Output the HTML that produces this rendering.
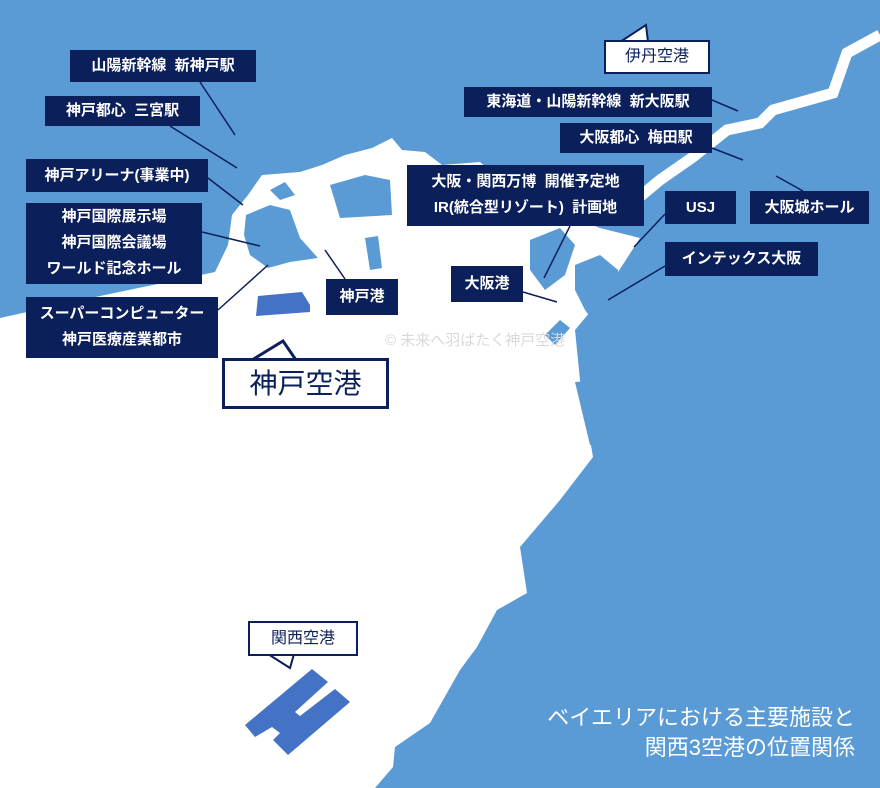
<!DOCTYPE html>
<html><head><meta charset="utf-8"><style>
html,body{margin:0;padding:0;}
body{width:880px;height:788px;overflow:hidden;background:#5b9bd5;font-family:"Liberation Sans","Noto Sans CJK JP",sans-serif;}
.l{position:absolute;background:#0b1f5b;color:#fff;font-size:15px;font-weight:bold;text-align:center;line-height:26px;box-sizing:border-box;white-space:nowrap;}
.c{position:absolute;background:#fff;border:2px solid #0b1f5b;color:#0b1f5b;text-align:center;box-sizing:border-box;white-space:nowrap;}
</style></head><body>
<svg width="880" height="788" style="position:absolute;left:0;top:0">
<polygon fill="#fff" points="0,318 100,296 215,272 228,245 232,215 248,195 262,175 300,172 322,165 345,155 372,148 392,138 402,150 425,152 442,165 480,162 520,198 600,228 640,238 600,300 575,330 580,380 593,457 560,500 520,547 527,593 497,610 477,647 460,670 430,723 395,747 393,767 375,788 0,788"/>
<polyline fill="none" stroke="#fff" stroke-width="11" stroke-linejoin="miter" points="636,200 660,180 693,157 727,130 760,123 773,110 833,93 847,53 880,35"/>
<polygon fill="#5b9bd5" points="246,215 270,205 290,210 300,238 318,258 290,262 268,268 250,255 244,235"/>
<polygon fill="#5b9bd5" points="330,185 365,175 390,180 392,215 340,218"/>
<polygon fill="#5b9bd5" points="365,238 378,236 382,268 370,270"/>
<polygon fill="#5b9bd5" points="270,190 285,182 295,195 280,200"/>
<polygon fill="#4472c4" points="258,296 302,292 310,305 310,312 256,316"/>
<polygon fill="#5b9bd5" points="530,240 560,228 575,245 565,275 545,290 530,270"/>
<polygon fill="#5b9bd5" points="575,265 600,255 618,270 620,335 600,330 585,310 575,290"/>
<polygon fill="#5b9bd5" points="545,335 560,320 570,328 555,345"/>
<polygon fill="#5b9bd5" points="575,382 600,380 605,440 590,445"/>
<polygon fill="#4472c4" points="245,725 312,669 328,682 295,712 300,716 335,689 350,702 288,755 273,740 280,733 272,727 255,737"/>
<g stroke="#0b1f5b" stroke-width="1.5">
<line x1="200" y1="82" x2="235" y2="135"/>
<line x1="170" y1="126" x2="237" y2="168"/>
<line x1="208" y1="178" x2="243" y2="205"/>
<line x1="202" y1="232" x2="260" y2="246"/>
<line x1="218" y1="310" x2="268" y2="265"/>
<line x1="345" y1="279" x2="325" y2="250"/>
<line x1="570" y1="226" x2="544" y2="278"/>
<line x1="523" y1="292" x2="557" y2="302"/>
<line x1="712" y1="100" x2="738" y2="111"/>
<line x1="712" y1="148" x2="743" y2="160"/>
<line x1="803" y1="191" x2="776" y2="176"/>
<line x1="665" y1="214" x2="634" y2="247"/>
<line x1="665" y1="266" x2="608" y2="300"/>
</g>
<polygon fill="#fff" stroke="#0b1f5b" stroke-width="2" points="620,42 646,25 648,42"/>
<polygon fill="#fff" stroke="#0b1f5b" stroke-width="3" points="252,360 283,341 296,360"/>
<polygon fill="#fff" stroke="#0b1f5b" stroke-width="2" points="268,654 290,668 294,654"/>
<text x="385" y="345" font-family="Liberation Sans,Noto Sans CJK JP,sans-serif" font-size="15" fill="#d8d8d8">© 未来へ羽ばたく神戸空港</text>
</svg>
<div class="l" style="left:70px;top:50px;width:186px;height:32px;line-height:32px">山陽新幹線&nbsp; 新神戸駅</div>
<div class="l" style="left:45px;top:96px;width:155px;height:30px;line-height:30px">神戸都心&nbsp; 三宮駅</div>
<div class="l" style="left:26px;top:159px;width:182px;height:33px;line-height:33px">神戸アリーナ(事業中)</div>
<div class="l" style="left:26px;top:203px;width:176px;height:81px;padding-top:1px">神戸国際展示場<br>神戸国際会議場<br>ワールド記念ホール</div>
<div class="l" style="left:26px;top:297px;width:192px;height:61px;padding-top:4px">スーパーコンピューター<br>神戸医療産業都市</div>
<div class="l" style="left:326px;top:279px;width:72px;height:36px;line-height:36px">神戸港</div>
<div class="l" style="left:407px;top:165px;width:237px;height:61px;padding-top:4px">大阪・関西万博&nbsp; 開催予定地<br>IR(統合型リゾート)&nbsp; 計画地</div>
<div class="l" style="left:451px;top:266px;width:72px;height:36px;line-height:36px">大阪港</div>
<div class="l" style="left:464px;top:87px;width:248px;height:30px;line-height:30px">東海道・山陽新幹線&nbsp; 新大阪駅</div>
<div class="l" style="left:560px;top:123px;width:152px;height:30px;line-height:30px">大阪都心&nbsp; 梅田駅</div>
<div class="l" style="left:665px;top:191px;width:71px;height:33px;line-height:33px">USJ</div>
<div class="l" style="left:750px;top:191px;width:119px;height:33px;line-height:33px">大阪城ホール</div>
<div class="l" style="left:665px;top:242px;width:153px;height:34px;line-height:34px">インテックス大阪</div>
<div class="c" style="left:604px;top:40px;width:106px;height:34px;line-height:30px;font-size:16px">伊丹空港</div>
<div class="c" style="left:222px;top:358px;width:167px;height:51px;line-height:45px;font-size:28px;border-width:3px">神戸空港</div>
<div class="c" style="left:248px;top:621px;width:110px;height:35px;line-height:31px;font-size:16px">関西空港</div>
<div style="position:absolute;right:25px;top:703px;color:#fff;font-size:22px;line-height:30px;text-align:right;white-space:nowrap">ベイエリアにおける主要施設と<br>関西3空港の位置関係</div>
</body></html>
